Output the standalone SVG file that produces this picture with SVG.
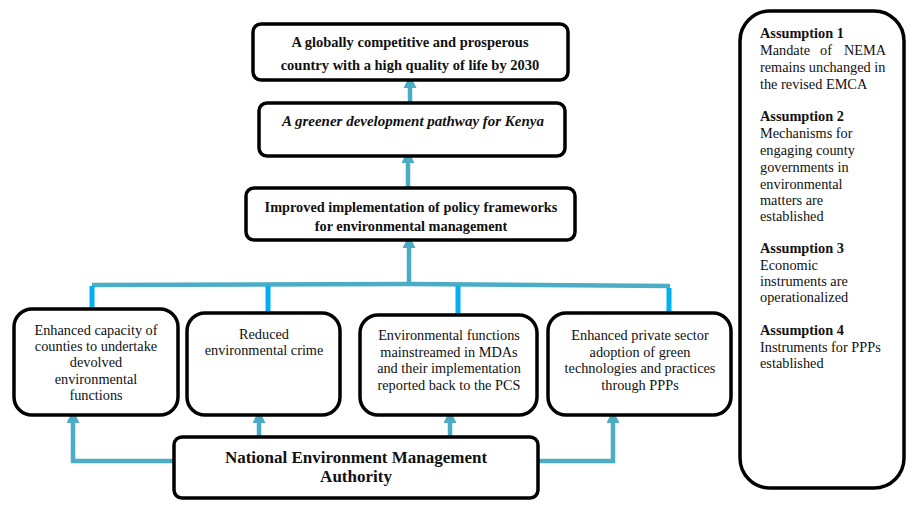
<svg xmlns="http://www.w3.org/2000/svg" width="921" height="506" viewBox="0 0 921 506">
<style>
.box{fill:#fff;stroke:#000;stroke-width:3.5}
text{font-family:'Liberation Serif','Times New Roman',serif;font-size:14.3px;fill:#111}
.t{text-anchor:middle}
.b{font-weight:bold}
.c{fill:none;stroke:#4bacc6;stroke-width:4.5}
.v{fill:none;stroke:#00b0f0;stroke-width:5}
</style>
<defs>
<marker id="ah" markerWidth="13" markerHeight="13" refX="3" refY="6.5" orient="auto" markerUnits="userSpaceOnUse" viewBox="0 0 13 13">
<path d="M0,0 L13,6.5 L0,13 Z" fill="#4bacc6"/>
</marker>
</defs>
<g id="connectors">
<line class="c" x1="410" y1="103" x2="410" y2="85" marker-end="url(#ah)"/>
<line class="c" x1="408" y1="188" x2="408" y2="160" marker-end="url(#ah)"/>
<line class="c" x1="409" y1="285" x2="409" y2="245" marker-end="url(#ah)"/>
<path class="c" d="M92,285 L410,284 L670,286"/>
<line class="v" x1="92" y1="286" x2="92" y2="309"/>
<line class="v" x1="268" y1="286" x2="268" y2="313"/>
<line class="v" x1="458" y1="286" x2="458" y2="315"/>
<line class="v" x1="669" y1="288" x2="669" y2="314"/>
<path class="c" d="M174,461 L73,461 L73,420" stroke-width="5.5" marker-end="url(#ah)"/>
<line class="c" x1="259" y1="437" x2="259" y2="420" marker-end="url(#ah)"/>
<line class="c" x1="450" y1="437" x2="450" y2="420" marker-end="url(#ah)"/>
<path class="c" d="M538,461 L613,461 L613,420" stroke-width="5.5" marker-end="url(#ah)"/>
</g>
<g id="goal">
<rect class="box" x="253" y="24" width="315" height="56" rx="8"/>
<text class="t b" x="410" y="47" style="font-size:14.5px">A globally competitive and prosperous</text>
<text class="t b" x="410" y="70" style="font-size:14.5px">country with a high quality of life by 2030</text>
</g>
<g id="pathway">
<rect class="box" x="259" y="103" width="306" height="53" rx="8"/>
<text class="t b" x="413" y="126" font-style="italic" style="font-size:15px">A greener development pathway for Kenya</text>
</g>
<g id="policy">
<rect class="box" x="246" y="188" width="329" height="52" rx="8"/>
<text class="t b" x="411" y="212">Improved implementation of policy frameworks</text>
<text class="t b" x="411" y="231">for environmental management</text>
</g>
<g id="counties">
<rect class="box" x="14" y="309" width="164" height="106" rx="18"/>
<text class="t" x="96" y="335">Enhanced capacity of</text>
<text class="t" x="96" y="351">counties to undertake</text>
<text class="t" x="96" y="367">devolved</text>
<text class="t" x="96" y="384">environmental</text>
<text class="t" x="96" y="400">functions</text>
</g>
<g id="crime">
<rect class="box" x="187" y="313" width="153" height="102" rx="18"/>
<text class="t" x="264" y="339">Reduced</text>
<text class="t" x="264" y="355">environmental crime</text>
</g>
<g id="mdas">
<rect class="box" x="360" y="315" width="177" height="100" rx="18"/>
<text class="t" x="449" y="340">Environmental functions</text>
<text class="t" x="449" y="357">mainstreamed in MDAs</text>
<text class="t" x="449" y="373">and their implementation</text>
<text class="t" x="449" y="390">reported back to the PCS</text>
</g>
<g id="private">
<rect class="box" x="548" y="313" width="183" height="102" rx="18"/>
<text class="t" x="640" y="340">Enhanced private sector</text>
<text class="t" x="640" y="357">adoption of green</text>
<text class="t" x="640" y="373">technologies and practices</text>
<text class="t" x="640" y="390">through PPPs</text>
</g>
<g id="nema">
<rect class="box" x="174" y="437" width="364" height="61" rx="8"/>
<text class="t b" x="356" y="463" style="font-size:17px">National Environment Management</text>
<text class="t b" x="356" y="482" style="font-size:17px">Authority</text>
</g>
<g id="assumptions">
<rect class="box" x="740" y="11" width="164" height="477" rx="30"/>
<text class="b" x="760" y="38">Assumption 1</text>
<text x="760" y="55">Mandate</text>
<text x="820" y="55">of</text>
<text x="886" y="55" text-anchor="end">NEMA</text>
<text x="760" y="72">remains unchanged in</text>
<text x="760" y="89">the revised EMCA</text>
<text class="b" x="760" y="121">Assumption 2</text>
<text x="760" y="138">Mechanisms for</text>
<text x="760" y="155">engaging county</text>
<text x="760" y="172">governments in</text>
<text x="760" y="189">environmental</text>
<text x="760" y="205">matters are</text>
<text x="760" y="221">established</text>
<text class="b" x="760" y="253">Assumption 3</text>
<text x="760" y="270">Economic</text>
<text x="760" y="286">instruments are</text>
<text x="760" y="302">operationalized</text>
<text class="b" x="760" y="335">Assumption 4</text>
<text x="760" y="352">Instruments for PPPs</text>
<text x="760" y="368">established</text>
</g>
</svg>
